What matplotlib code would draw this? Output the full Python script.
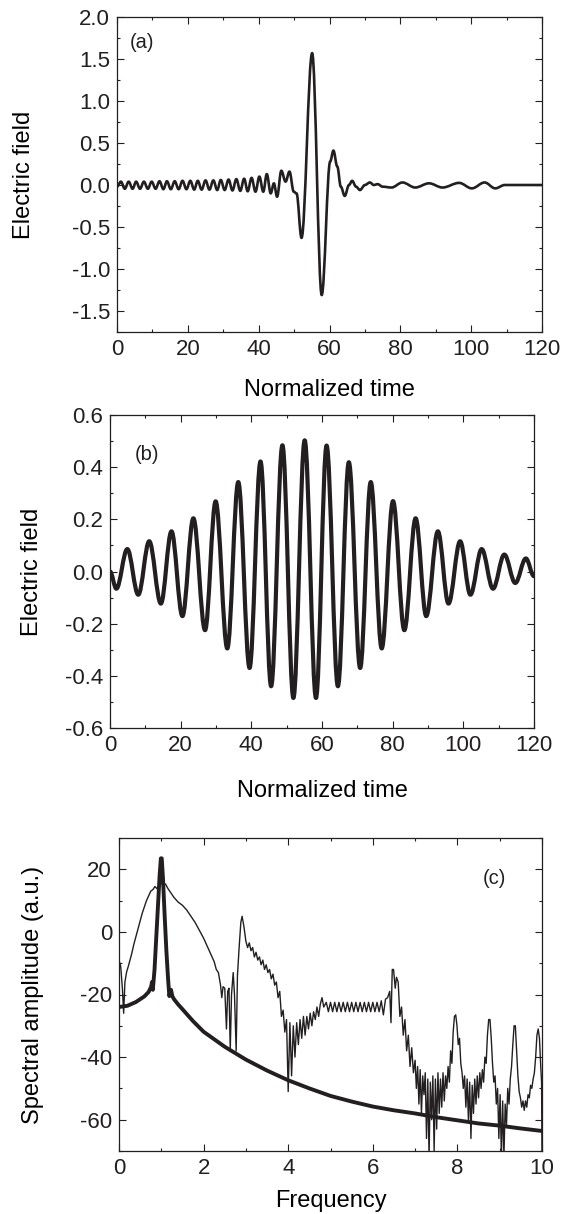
import matplotlib
matplotlib.use("Agg")
import matplotlib.pyplot as plt
from matplotlib.ticker import MultipleLocator
from matplotlib.path import Path
from matplotlib.patches import PathPatch

plt.rcParams['font.family'] = ['Liberation Sans', 'DejaVu Sans']
plt.rcParams['axes.unicode_minus'] = False

# ---------------- data ----------------
# (a) electric field vs normalized time (extrema of the trace)
time_a = [0.0, 1.1, 2.2, 3.3, 4.4, 5.4, 6.5, 7.6, 8.7, 9.8, 10.9, 12.0, 13.1,
          14.1, 15.2, 16.3, 17.4, 18.5, 19.6, 20.7, 21.8, 22.8, 23.9, 25.0,
          26.1, 27.2, 28.3, 29.3, 30.4, 31.5, 32.6, 33.7, 34.8, 35.9, 36.9,
          38.0, 39.1, 40.2, 41.3, 42.3, 43.4, 44.3, 45.2, 46.4, 47.6, 48.7,
          49.9, 50.7, 52.1, 55.1, 57.8, 60.2, 61.1, 62.2, 63.2, 64.3, 65.5,
          66.4, 67.5, 68.6, 70.0, 71.4, 72.5, 73.6, 75.0, 77.5, 80.6, 84.2,
          88.1, 91.9, 96.6, 100.2, 103.8, 106.8, 109.5, 120.0]
field_a = [-0.02, 0.04, -0.045, 0.04, -0.045, 0.04, -0.045, 0.04, -0.045,
           0.04, -0.045, 0.045, -0.05, 0.045, -0.05, 0.045, -0.05, 0.05, -0.05,
           0.05, -0.055, 0.05, -0.055, 0.055, -0.055, 0.055, -0.06, 0.06, -0.06,
           0.065, -0.065, 0.07, -0.07, 0.075, -0.075, 0.085, -0.08, 0.10, -0.08,
           0.13, -0.10, 0.02, -0.14, 0.17, 0.04, 0.16, -0.08, -0.10, -0.63,
           1.57, -1.31, 0.28, 0.41, 0.22, -0.02, -0.13, 0.0, 0.05, -0.02, -0.06,
           0.0, 0.03, 0.0, 0.01, -0.02, -0.03, 0.03, -0.03, 0.02, -0.03, 0.025,
           -0.04, 0.03, -0.04, 0.0, 0.0]

# (b) electric field of the reference pulse (extrema of the trace)
time_b = [0, 1.8, 4.9, 8.0, 11.1, 14.4, 17.4, 20.5, 23.6, 26.9, 29.9, 33.2,
          36.3, 39.5, 42.6, 45.6, 48.8, 51.9, 55.1, 58.3, 61.3, 64.5, 67.6,
          70.8, 73.8, 76.9, 80.1, 83.3, 86.5, 89.5, 92.8, 95.8, 99.1, 102.0,
          105.2, 108.4, 111.6, 114.7, 117.7, 120]
field_b = [0.0, -0.066, 0.086, -0.089, 0.116, -0.123, 0.154, -0.171, 0.204,
           -0.225, 0.269, -0.295, 0.343, -0.37, 0.422, -0.44, 0.484, -0.485,
           0.503, -0.485, 0.483, -0.44, 0.419, -0.37, 0.343, -0.295, 0.270,
           -0.225, 0.204, -0.171, 0.154, -0.123, 0.116, -0.089, 0.086, -0.066,
           0.065, -0.044, 0.05, -0.018]

# (c) spectrum of the reference pulse (thick line)
freq_thick = [0, 0.2, 0.4, 0.6, 0.7, 0.76, 0.78, 0.80, 0.84, 0.88, 0.92, 0.96,
              0.99, 1.01, 1.04, 1.08, 1.12, 1.16, 1.19, 1.21, 1.23, 1.26, 1.3,
              1.4, 1.5, 1.75, 2.0, 2.5, 3.0, 3.5, 4.0, 4.5, 5.0, 5.5, 6.0, 6.5,
              7.0, 7.5, 8.0, 8.5, 9.0, 9.5, 10.0]
amp_thick = [-24, -23.6, -22.4, -20.6, -19.2, -17.5, -16, -18.5, -12, -2, 8,
             18, 23.5, 23.5, 17, 5, -6, -15, -20.5, -19.5, -18.5, -20.5, -21.5,
             -23.2, -24.7, -28.5, -31.9, -36.7, -40.8, -44.3, -47.4, -50,
             -52.4, -54.2, -55.8, -57, -58, -59.2, -60.2, -61.2, -61.9, -62.8,
             -63.6]

# (c) spectrum of the panel (a) signal (thin line), in bands
freq_low = [0.00, 0.04, 0.08, 0.11, 0.14, 0.18, 0.22, 0.26, 0.30, 0.35, 0.40,
            0.45, 0.50, 0.55, 0.60, 0.65, 0.70, 0.75, 0.80, 0.85, 0.90, 0.95,
            1.00, 1.05, 1.10, 1.15, 1.20, 1.30, 1.40, 1.50, 1.60, 1.70, 1.80,
            1.90, 2.00, 2.10, 2.20, 2.25, 2.30, 2.35, 2.40, 2.43, 2.46, 2.50,
            2.54, 2.57, 2.60, 2.63, 2.66, 2.70, 2.73, 2.77, 2.80, 2.84, 2.88]
amp_low = [-9, -11, -18, -26, -16, -12.8, -11, -9, -7, -4, -1.5,
           1, 3.5, 6, 8, 10, 11.5, 13, 13.5, 14.5, 13.8, 15,
           15.5, 15, 15.3, 14, 13, 11, 9.5, 8.5, 7, 5, 3,
           0.5, -2, -5, -8, -9.5, -12, -13, -17, -21, -17.5, -18,
           -31, -19, -18, -38, -20, -13, -20, -38, -14, -5, 3]

freq_mid = [2.91, 2.95, 3.00, 3.04, 3.08, 3.12, 3.16, 3.20, 3.24, 3.28, 3.32,
            3.36, 3.40, 3.44, 3.48, 3.52, 3.56, 3.60, 3.64, 3.68, 3.72, 3.76,
            3.80, 3.84, 3.88, 3.92, 3.96, 4.00, 4.04, 4.08, 4.12, 4.16, 4.20,
            4.24, 4.28, 4.32, 4.36, 4.40, 4.44, 4.48, 4.52, 4.56, 4.60, 4.64,
            4.68, 4.72, 4.76, 4.80, 4.84]
amp_mid = [5, 2, -3, -5, -3.5, -6, -5, -8, -6.5, -9, -8,
           -10.5, -9, -12, -10.5, -13, -12, -15, -13.5, -17, -16, -21,
           -19, -27, -25, -32, -28, -51, -29, -46, -30, -40, -29,
           -36, -28, -34, -27, -33, -27, -31, -26, -30, -25.5, -28,
           -24, -27, -23, -21, -24]

freq_plateau = [4.90, 4.95, 5.00, 5.05, 5.10, 5.15, 5.20, 5.25, 5.30, 5.35,
                5.40, 5.45, 5.50, 5.55, 5.60, 5.65, 5.70, 5.75, 5.80, 5.85,
                5.90, 5.95, 6.00, 6.05, 6.10, 6.15, 6.20, 6.25, 6.30]
amp_plateau = [-22.5, -25.5, -22.5, -25.5, -22.5, -25.5, -22.5, -25.5, -22.5,
               -25.5, -22.5, -25.5, -22.5, -25.5, -22.5, -25.5, -22.5, -25.5,
               -22.5, -25.5, -22.5, -25.5, -22.5, -25.5, -22.5, -25.5, -22,
               -26.5, -21.5]

freq_edge = [6.35, 6.40, 6.43, 6.46, 6.49, 6.53, 6.56, 6.60, 6.64, 6.68, 6.72,
             6.76, 6.80, 6.84, 6.88, 6.92, 6.96, 7.00]
amp_edge = [-21, -19, -29, -12, -12, -18, -14.5, -16, -27, -24, -33,
            -28, -38, -33, -43, -37, -45, -41]

freq_noise = [7.03, 7.06, 7.09, 7.12, 7.15, 7.18, 7.21, 7.24, 7.27, 7.30,
              7.33, 7.36, 7.39, 7.42, 7.45, 7.48, 7.51, 7.54, 7.57, 7.60,
              7.63, 7.66, 7.69, 7.72, 7.75, 7.78, 7.81, 7.84, 7.87, 7.90,
              7.93, 7.96, 7.99, 8.02, 8.05, 8.08, 8.11, 8.14, 8.17, 8.20,
              8.23, 8.26, 8.29, 8.32, 8.35, 8.38, 8.41, 8.44, 8.47, 8.50,
              8.53, 8.56, 8.59, 8.62, 8.65, 8.68, 8.71, 8.74, 8.77, 8.80,
              8.83, 8.86, 8.89, 8.92, 8.95, 8.98, 9.01, 9.04, 9.07, 9.10,
              9.13, 9.16, 9.19, 9.22, 9.25, 9.28, 9.31, 9.34, 9.37, 9.40,
              9.43, 9.46, 9.49, 9.52, 9.55, 9.58, 9.61, 9.64, 9.67, 9.70,
              9.73, 9.76, 9.79, 9.82, 9.85, 9.88, 9.91, 9.94, 9.97, 9.99, 10.0]
amp_noise = [-50, -43, -55, -44, -58, -46, -52, -45, -66, -47,
             -72, -48, -60, -46, -70, -47, -63, -45, -58, -47,
             -56, -45, -54, -46, -50, -43, -48, -38, -42, -32,
             -27, -26.5, -30, -36, -34, -42, -45, -50, -46, -56,
             -47, -60, -48, -66, -49, -58, -47, -55, -46, -53,
             -45, -50, -44, -48, -40, -42, -33, -28, -28, -34,
             -42, -48, -46, -55, -50, -66, -52, -72, -54, -72,
             -55, -62, -50, -55, -47, -43, -36, -30, -30, -38,
             -46, -51, -53, -56, -54, -57, -54, -56, -52, -53,
             -49, -50, -47, -45, -40, -33, -31, -34, -43, -48, -72]

freq_thin = freq_low + freq_mid + freq_plateau + freq_edge + freq_noise
amp_thin = amp_low + amp_mid + amp_plateau + amp_edge + amp_noise

# ---------------- figure ----------------
W, H = 570, 1214
fig = plt.figure(figsize=(W / 100, H / 100), dpi=100)
ink = '#231f20'


def px_axes(left, right, top, bottom):
    return fig.add_axes([left / W, 1 - bottom / H, (right - left) / W, (bottom - top) / H])


def style(ax, xmaj, xmin, ymaj, ymin):
    ax.xaxis.set_major_locator(MultipleLocator(xmaj))
    ax.xaxis.set_minor_locator(MultipleLocator(xmin))
    ax.yaxis.set_major_locator(MultipleLocator(ymaj))
    ax.yaxis.set_minor_locator(MultipleLocator(ymin))
    ax.tick_params(which='both', direction='in', top=True, right=True,
                   colors=ink, width=0.8, labelsize=16, pad=5)
    ax.tick_params(which='major', length=5)
    ax.tick_params(which='minor', length=2.5)
    for s in ax.spines.values():
        s.set_color(ink)
        s.set_linewidth(0.9)


def smooth_line(ax, x, y, lw):
    # "spline connect" drawing: cubic segments with flat tangents at each point
    verts = [(x[0], y[0])]
    codes = [Path.MOVETO]
    for i in range(len(x) - 1):
        dx = x[i + 1] - x[i]
        verts += [(x[i] + 0.36 * dx, y[i]), (x[i + 1] - 0.36 * dx, y[i + 1]),
                  (x[i + 1], y[i + 1])]
        codes += [Path.CURVE4] * 3
    ax.add_patch(PathPatch(Path(verts, codes), fill=False, edgecolor=ink,
                           lw=lw, joinstyle='round', capstyle='round'))


# (a)
ax1 = px_axes(117, 542, 17, 332)
smooth_line(ax1, time_a, field_a, 1.9)
ax1.set_xlim(0, 120)
ax1.set_ylim(-1.75, 2.0)
style(ax1, 20, 10, 0.5, 0.25)
ax1.set_xlabel('Normalized time', fontsize=17)
ax1.set_ylabel('Electric field', fontsize=17)
ax1.xaxis.set_label_coords(0.5, -0.15)
ax1.yaxis.set_label_coords(-0.193, 0.5)
ax1.text(3.5, 1.7, '(a)', fontsize=14.5, color=ink, va='center')

# (b)
ax2 = px_axes(110, 534, 415, 728)
smooth_line(ax2, time_b, field_b, 3.0)
ax2.set_xlim(0, 120)
ax2.set_ylim(-0.6, 0.6)
style(ax2, 20, 10, 0.2, 0.1)
ax2.set_xlabel('Normalized time', fontsize=17)
ax2.set_ylabel('Electric field', fontsize=17)
ax2.xaxis.set_label_coords(0.5, -0.165)
ax2.yaxis.set_label_coords(-0.158, 0.5)
ax2.text(7, 0.45, '(b)', fontsize=14.5, color=ink, va='center')

# (c)
ax3 = px_axes(119, 542, 838, 1151)
ax3.plot(freq_thin, amp_thin, color=ink, lw=1.0)
ax3.plot(freq_thick, amp_thick, color=ink, lw=2.8, solid_joinstyle='round')
ax3.set_xlim(0, 10)
ax3.set_ylim(-70, 30)
style(ax3, 2, 1, 20, 10)
ax3.set_xlabel('Frequency', fontsize=17)
ax3.set_ylabel('Spectral amplitude (a.u.)', fontsize=17)
ax3.xaxis.set_label_coords(0.5, -0.125)
ax3.yaxis.set_label_coords(-0.177, 0.5)
ax3.text(8.6, 17, '(c)', fontsize=14.5, color=ink, va='center')

fig.savefig('out.png', dpi=100)
